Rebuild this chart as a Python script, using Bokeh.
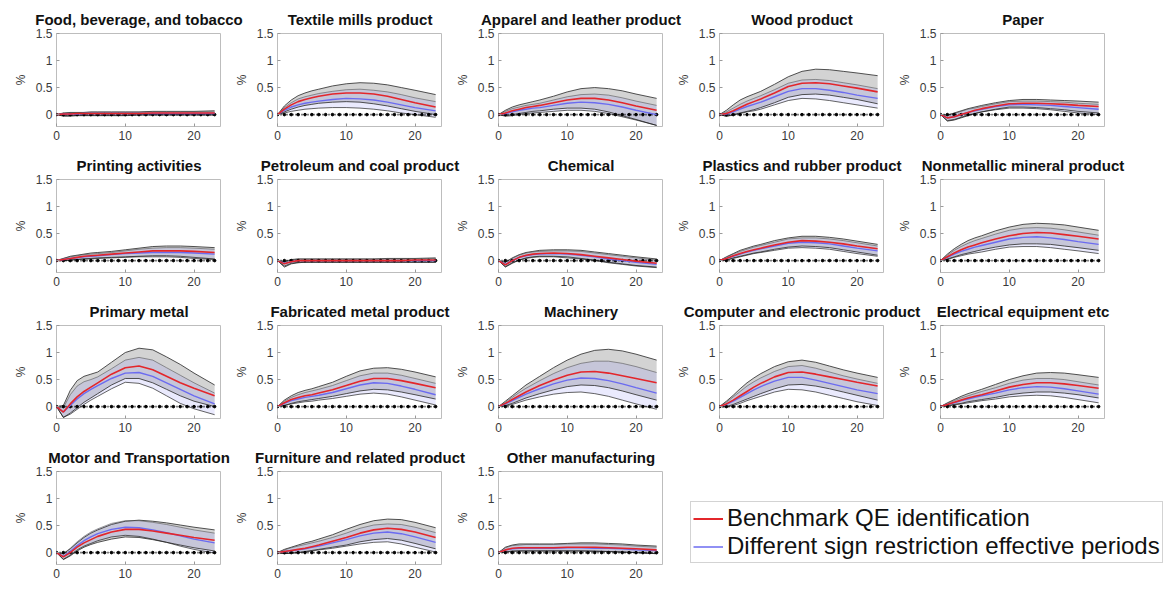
from bokeh.plotting import figure
from bokeh.layouts import row, column
from bokeh.models import FixedTicker, Legend, LegendItem
from bokeh.core.properties import value
from bokeh.embed import file_html
from bokeh.resources import INLINE

TITLES = [
    "Food, beverage, and tobacco", "Textile mills product", "Apparel and leather product",
    "Wood product", "Paper",
    "Printing activities", "Petroleum and coal product", "Chemical",
    "Plastics and rubber product", "Nonmetallic mineral product",
    "Primary metal", "Fabricated metal product", "Machinery",
    "Computer and electronic product", "Electrical equipment etc",
    "Motor and Transportation", "Furniture and related product", "Other manufacturing",
]

# horizons (months)
H = [0, 1, 2, 3, 4, 5, 6, 8, 10, 12, 14, 16, 18, 20, 23]
ZERO_X = list(range(24))
ZERO_Y = [0] * 24

Y_TICKS = [0, 0.5, 1, 1.5]
Y_LABELS = ["0", "0.5", "1", "1.5"]
X_TICKS = [0, 10, 20]

# Benchmark QE identification: median response
BENCH = [
    [0, 0.01, 0.01, 0.02, 0.02, 0.02, 0.02, 0.02, 0.02, 0.02, 0.03, 0.03, 0.03, 0.03, 0.03],
    [0, 0.10, 0.18, 0.24, 0.28, 0.31, 0.34, 0.38, 0.40, 0.40, 0.38, 0.34, 0.28, 0.22, 0.14],
    [0, 0.03, 0.07, 0.10, 0.13, 0.15, 0.17, 0.22, 0.27, 0.30, 0.30, 0.27, 0.22, 0.16, 0.08],
    [0, 0.02, 0.07, 0.13, 0.19, 0.24, 0.29, 0.40, 0.52, 0.58, 0.59, 0.57, 0.53, 0.49, 0.42],
    [0, -0.06, -0.04, 0.0, 0.04, 0.08, 0.11, 0.16, 0.20, 0.21, 0.21, 0.20, 0.19, 0.17, 0.15],
    [0, 0.02, 0.04, 0.06, 0.08, 0.09, 0.10, 0.12, 0.14, 0.16, 0.18, 0.18, 0.18, 0.17, 0.15],
    [0, -0.06, -0.02, 0.0, 0.0, 0.0, 0.0, 0.0, 0.0, 0.0, 0.0, 0.0, 0.0, 0.01, 0.01],
    [0, -0.08, 0.0, 0.06, 0.10, 0.12, 0.13, 0.14, 0.13, 0.11, 0.08, 0.05, 0.02, -0.01, -0.05],
    [0, 0.04, 0.09, 0.13, 0.17, 0.20, 0.23, 0.29, 0.34, 0.37, 0.36, 0.34, 0.31, 0.27, 0.22],
    [0, 0.07, 0.14, 0.20, 0.25, 0.29, 0.33, 0.40, 0.46, 0.50, 0.52, 0.51, 0.48, 0.45, 0.40],
    [0, -0.10, 0.05, 0.18, 0.28, 0.36, 0.44, 0.60, 0.72, 0.75, 0.68, 0.56, 0.44, 0.34, 0.20],
    [0, 0.07, 0.13, 0.17, 0.20, 0.22, 0.25, 0.31, 0.39, 0.47, 0.52, 0.52, 0.48, 0.43, 0.35],
    [0, 0.06, 0.13, 0.20, 0.27, 0.33, 0.39, 0.49, 0.58, 0.64, 0.65, 0.62, 0.57, 0.52, 0.44],
    [0, 0.05, 0.12, 0.20, 0.28, 0.36, 0.43, 0.55, 0.63, 0.64, 0.60, 0.55, 0.50, 0.45, 0.38],
    [0, 0.04, 0.08, 0.12, 0.16, 0.19, 0.22, 0.29, 0.36, 0.41, 0.44, 0.44, 0.42, 0.39, 0.34],
    [0, -0.08, 0.0, 0.10, 0.18, 0.24, 0.30, 0.38, 0.43, 0.43, 0.40, 0.36, 0.32, 0.28, 0.23],
    [0, 0.02, 0.04, 0.06, 0.08, 0.11, 0.14, 0.21, 0.28, 0.36, 0.42, 0.45, 0.43, 0.38, 0.28],
    [0, 0.05, 0.08, 0.09, 0.09, 0.09, 0.09, 0.09, 0.10, 0.10, 0.10, 0.09, 0.08, 0.07, 0.05],
]

# Benchmark band, upper edge
BAND_HI = [
    [0, 0.03, 0.04, 0.04, 0.04, 0.05, 0.05, 0.05, 0.05, 0.05, 0.06, 0.06, 0.06, 0.06, 0.07],
    [0, 0.16, 0.27, 0.35, 0.40, 0.44, 0.47, 0.53, 0.57, 0.59, 0.58, 0.55, 0.50, 0.45, 0.37],
    [0, 0.08, 0.14, 0.18, 0.21, 0.24, 0.27, 0.34, 0.42, 0.48, 0.50, 0.48, 0.44, 0.38, 0.30],
    [0, 0.08, 0.18, 0.27, 0.33, 0.38, 0.43, 0.56, 0.70, 0.80, 0.84, 0.83, 0.80, 0.77, 0.72],
    [0, -0.01, 0.03, 0.07, 0.11, 0.14, 0.17, 0.22, 0.26, 0.28, 0.28, 0.27, 0.26, 0.25, 0.23],
    [0, 0.04, 0.08, 0.10, 0.12, 0.14, 0.15, 0.17, 0.20, 0.23, 0.26, 0.27, 0.27, 0.26, 0.24],
    [0, -0.02, 0.02, 0.03, 0.03, 0.03, 0.03, 0.03, 0.03, 0.03, 0.03, 0.04, 0.04, 0.04, 0.05],
    [0, -0.03, 0.05, 0.11, 0.15, 0.17, 0.19, 0.20, 0.20, 0.19, 0.16, 0.13, 0.10, 0.07, 0.03],
    [0, 0.07, 0.13, 0.19, 0.23, 0.27, 0.30, 0.37, 0.42, 0.45, 0.45, 0.43, 0.40, 0.36, 0.30],
    [0, 0.12, 0.22, 0.30, 0.37, 0.42, 0.46, 0.55, 0.62, 0.67, 0.69, 0.68, 0.66, 0.62, 0.56],
    [0, 0.02, 0.30, 0.48, 0.56, 0.60, 0.64, 0.82, 1.00, 1.08, 1.05, 0.92, 0.78, 0.62, 0.40],
    [0, 0.12, 0.20, 0.26, 0.30, 0.33, 0.37, 0.45, 0.56, 0.66, 0.71, 0.72, 0.69, 0.64, 0.55],
    [0, 0.10, 0.20, 0.30, 0.40, 0.48, 0.56, 0.72, 0.86, 0.97, 1.04, 1.06, 1.03, 0.97, 0.86],
    [0, 0.10, 0.21, 0.33, 0.44, 0.53, 0.61, 0.74, 0.83, 0.86, 0.82, 0.75, 0.68, 0.62, 0.54],
    [0, 0.07, 0.13, 0.19, 0.24, 0.28, 0.32, 0.41, 0.50, 0.57, 0.62, 0.63, 0.62, 0.59, 0.54],
    [0, -0.02, 0.07, 0.18, 0.28, 0.36, 0.42, 0.52, 0.58, 0.60, 0.58, 0.55, 0.51, 0.47, 0.42],
    [0, 0.06, 0.10, 0.14, 0.18, 0.21, 0.25, 0.33, 0.43, 0.52, 0.59, 0.62, 0.61, 0.56, 0.46],
    [0, 0.10, 0.14, 0.16, 0.16, 0.16, 0.16, 0.16, 0.17, 0.18, 0.18, 0.17, 0.16, 0.14, 0.12],
]

# Benchmark band, lower edge
BAND_LO = [
    [0, -0.02, -0.02, -0.01, -0.01, -0.01, -0.01, -0.01, -0.01, 0, 0, 0, 0, 0, 0],
    [0, 0.05, 0.10, 0.14, 0.17, 0.19, 0.21, 0.23, 0.24, 0.23, 0.20, 0.16, 0.11, 0.06, 0.0],
    [0, -0.02, 0.0, 0.02, 0.04, 0.06, 0.07, 0.10, 0.12, 0.12, 0.10, 0.05, -0.02, -0.09, -0.20],
    [0, -0.03, 0.0, 0.03, 0.06, 0.09, 0.13, 0.22, 0.32, 0.37, 0.38, 0.36, 0.32, 0.28, 0.20],
    [0, -0.12, -0.10, -0.06, -0.02, 0.02, 0.05, 0.10, 0.14, 0.14, 0.13, 0.11, 0.09, 0.06, 0.03],
    [0, 0.0, 0.01, 0.02, 0.03, 0.04, 0.05, 0.06, 0.07, 0.08, 0.09, 0.09, 0.08, 0.06, 0.03],
    [0, -0.12, -0.06, -0.04, -0.03, -0.03, -0.03, -0.03, -0.03, -0.03, -0.03, -0.03, -0.03, -0.03, -0.03],
    [0, -0.12, -0.05, 0.01, 0.05, 0.07, 0.08, 0.08, 0.07, 0.04, 0.01, -0.03, -0.06, -0.09, -0.12],
    [0, 0.01, 0.05, 0.08, 0.11, 0.14, 0.16, 0.21, 0.25, 0.27, 0.26, 0.24, 0.20, 0.16, 0.10],
    [0, 0.03, 0.07, 0.11, 0.14, 0.17, 0.20, 0.25, 0.29, 0.31, 0.31, 0.30, 0.27, 0.24, 0.19],
    [0, -0.20, -0.12, -0.02, 0.08, 0.16, 0.24, 0.40, 0.52, 0.52, 0.44, 0.32, 0.20, 0.10, 0.00],
    [0, 0.02, 0.06, 0.09, 0.11, 0.13, 0.15, 0.19, 0.24, 0.29, 0.32, 0.31, 0.27, 0.22, 0.14],
    [0, 0.02, 0.06, 0.11, 0.16, 0.20, 0.24, 0.31, 0.37, 0.40, 0.39, 0.35, 0.29, 0.22, 0.12],
    [0, 0.0, 0.04, 0.09, 0.14, 0.19, 0.24, 0.33, 0.40, 0.41, 0.38, 0.33, 0.27, 0.21, 0.12],
    [0, 0.02, 0.04, 0.06, 0.09, 0.11, 0.13, 0.17, 0.22, 0.25, 0.27, 0.27, 0.25, 0.22, 0.16],
    [0, -0.13, -0.06, 0.03, 0.10, 0.15, 0.19, 0.25, 0.29, 0.28, 0.24, 0.19, 0.14, 0.09, 0.03],
    [0, -0.02, -0.01, 0.0, 0.02, 0.04, 0.06, 0.10, 0.14, 0.20, 0.24, 0.26, 0.23, 0.17, 0.07],
    [0, 0.01, 0.03, 0.03, 0.03, 0.03, 0.03, 0.03, 0.03, 0.03, 0.03, 0.02, 0.01, 0.0, -0.02],
]

# Different sign restriction effective periods: median response
ALT = [
    [0, 0.01, 0.01, 0.01, 0.02, 0.02, 0.02, 0.02, 0.02, 0.02, 0.02, 0.02, 0.02, 0.02, 0.02],
    [0, 0.08, 0.14, 0.18, 0.21, 0.23, 0.25, 0.28, 0.30, 0.29, 0.27, 0.23, 0.18, 0.13, 0.07],
    [0, 0.02, 0.05, 0.08, 0.10, 0.12, 0.13, 0.17, 0.21, 0.23, 0.22, 0.19, 0.14, 0.08, 0.0],
    [0, 0.01, 0.05, 0.10, 0.15, 0.19, 0.23, 0.33, 0.43, 0.48, 0.48, 0.45, 0.41, 0.36, 0.30],
    [0, -0.06, -0.04, 0.0, 0.04, 0.07, 0.10, 0.15, 0.18, 0.19, 0.18, 0.17, 0.15, 0.13, 0.10],
    [0, 0.02, 0.04, 0.05, 0.07, 0.08, 0.09, 0.11, 0.13, 0.14, 0.15, 0.15, 0.15, 0.14, 0.12],
    [0, -0.05, -0.02, 0.0, 0.0, 0.0, 0.0, 0.0, 0.0, 0.0, 0.0, 0.0, 0.0, 0.0, 0.0],
    [0, -0.07, 0.0, 0.06, 0.09, 0.11, 0.12, 0.13, 0.12, 0.10, 0.07, 0.03, 0.0, -0.03, -0.07],
    [0, 0.04, 0.08, 0.12, 0.16, 0.19, 0.22, 0.27, 0.32, 0.34, 0.33, 0.31, 0.27, 0.23, 0.18],
    [0, 0.06, 0.12, 0.17, 0.21, 0.25, 0.28, 0.34, 0.40, 0.43, 0.44, 0.42, 0.39, 0.35, 0.30],
    [0, -0.10, 0.02, 0.14, 0.24, 0.32, 0.39, 0.52, 0.62, 0.63, 0.56, 0.44, 0.32, 0.20, 0.05],
    [0, 0.06, 0.11, 0.14, 0.17, 0.19, 0.21, 0.26, 0.33, 0.40, 0.44, 0.43, 0.38, 0.32, 0.22],
    [0, 0.05, 0.11, 0.17, 0.23, 0.28, 0.33, 0.42, 0.49, 0.53, 0.52, 0.48, 0.42, 0.35, 0.25],
    [0, 0.04, 0.10, 0.17, 0.24, 0.31, 0.37, 0.47, 0.54, 0.54, 0.49, 0.43, 0.37, 0.31, 0.24],
    [0, 0.04, 0.07, 0.11, 0.14, 0.17, 0.20, 0.25, 0.31, 0.35, 0.37, 0.36, 0.33, 0.29, 0.23],
    [0, -0.07, 0.02, 0.13, 0.22, 0.29, 0.35, 0.43, 0.47, 0.46, 0.42, 0.37, 0.31, 0.25, 0.18],
    [0, 0.02, 0.04, 0.05, 0.07, 0.10, 0.12, 0.18, 0.24, 0.31, 0.36, 0.38, 0.35, 0.29, 0.19],
    [0, 0.05, 0.07, 0.08, 0.08, 0.08, 0.08, 0.08, 0.09, 0.09, 0.08, 0.08, 0.07, 0.05, 0.04],
]

# Alternative band, upper edge
ALT_HI = [
    [0, 0.02, 0.03, 0.03, 0.04, 0.04, 0.04, 0.04, 0.04, 0.04, 0.05, 0.05, 0.05, 0.05, 0.05],
    [0, 0.13, 0.22, 0.29, 0.33, 0.36, 0.39, 0.43, 0.46, 0.47, 0.45, 0.42, 0.37, 0.31, 0.24],
    [0, 0.06, 0.11, 0.14, 0.17, 0.19, 0.21, 0.27, 0.33, 0.37, 0.38, 0.36, 0.31, 0.25, 0.17],
    [0, 0.05, 0.12, 0.19, 0.25, 0.30, 0.35, 0.46, 0.58, 0.64, 0.65, 0.63, 0.59, 0.55, 0.48],
    [0, -0.01, 0.02, 0.06, 0.10, 0.12, 0.15, 0.20, 0.24, 0.25, 0.25, 0.24, 0.23, 0.21, 0.19],
    [0, 0.04, 0.07, 0.09, 0.11, 0.12, 0.13, 0.15, 0.18, 0.21, 0.23, 0.24, 0.24, 0.23, 0.21],
    [0, -0.02, 0.01, 0.03, 0.03, 0.03, 0.03, 0.03, 0.03, 0.03, 0.03, 0.03, 0.03, 0.03, 0.04],
    [0, -0.03, 0.04, 0.10, 0.14, 0.16, 0.17, 0.18, 0.18, 0.17, 0.14, 0.11, 0.08, 0.05, 0.01],
    [0, 0.06, 0.12, 0.17, 0.21, 0.25, 0.28, 0.34, 0.40, 0.42, 0.42, 0.40, 0.37, 0.33, 0.27],
    [0, 0.10, 0.19, 0.26, 0.32, 0.37, 0.41, 0.49, 0.56, 0.60, 0.61, 0.60, 0.57, 0.53, 0.47],
    [0, -0.02, 0.22, 0.38, 0.46, 0.50, 0.55, 0.70, 0.86, 0.91, 0.86, 0.72, 0.58, 0.44, 0.25],
    [0, 0.10, 0.17, 0.22, 0.26, 0.29, 0.32, 0.39, 0.48, 0.57, 0.62, 0.62, 0.58, 0.52, 0.43],
    [0, 0.08, 0.17, 0.26, 0.34, 0.41, 0.48, 0.61, 0.72, 0.80, 0.84, 0.84, 0.80, 0.74, 0.63],
    [0, 0.08, 0.18, 0.28, 0.38, 0.46, 0.53, 0.65, 0.74, 0.76, 0.71, 0.64, 0.57, 0.51, 0.43],
    [0, 0.06, 0.11, 0.16, 0.20, 0.24, 0.28, 0.35, 0.43, 0.49, 0.52, 0.52, 0.50, 0.46, 0.40],
    [0, -0.02, 0.08, 0.20, 0.30, 0.38, 0.44, 0.54, 0.59, 0.59, 0.56, 0.52, 0.47, 0.42, 0.36],
    [0, 0.05, 0.09, 0.12, 0.15, 0.18, 0.21, 0.28, 0.36, 0.45, 0.51, 0.53, 0.52, 0.47, 0.37],
    [0, 0.09, 0.13, 0.14, 0.15, 0.15, 0.15, 0.15, 0.16, 0.16, 0.16, 0.15, 0.14, 0.12, 0.10],
]

# Alternative band, lower edge
ALT_LO = [
    [0, -0.03, -0.03, -0.02, -0.02, -0.02, -0.02, -0.02, -0.02, -0.01, -0.01, -0.01, -0.01, -0.01, -0.01],
    [0, 0.03, 0.06, 0.08, 0.10, 0.11, 0.12, 0.13, 0.13, 0.12, 0.10, 0.07, 0.03, 0.0, -0.05],
    [0, -0.03, -0.02, 0.0, 0.02, 0.03, 0.04, 0.06, 0.08, 0.08, 0.06, 0.02, -0.04, -0.10, -0.20],
    [0, -0.03, -0.01, 0.02, 0.05, 0.07, 0.10, 0.18, 0.26, 0.30, 0.29, 0.26, 0.22, 0.18, 0.12],
    [0, -0.11, -0.09, -0.05, -0.01, 0.02, 0.05, 0.09, 0.12, 0.12, 0.11, 0.09, 0.06, 0.03, 0.0],
    [0, 0.0, 0.01, 0.02, 0.03, 0.03, 0.04, 0.05, 0.06, 0.07, 0.07, 0.07, 0.06, 0.04, 0.02],
    [0, -0.10, -0.05, -0.03, -0.03, -0.03, -0.03, -0.03, -0.03, -0.03, -0.03, -0.03, -0.03, -0.03, -0.03],
    [0, -0.11, -0.04, 0.01, 0.04, 0.06, 0.07, 0.07, 0.05, 0.03, 0.0, -0.04, -0.07, -0.10, -0.13],
    [0, 0.01, 0.04, 0.07, 0.10, 0.13, 0.15, 0.19, 0.23, 0.24, 0.23, 0.21, 0.17, 0.13, 0.08],
    [0, 0.02, 0.06, 0.09, 0.12, 0.14, 0.16, 0.21, 0.25, 0.26, 0.26, 0.24, 0.21, 0.18, 0.13],
    [0, -0.20, -0.14, -0.05, 0.04, 0.12, 0.19, 0.33, 0.45, 0.43, 0.34, 0.20, 0.06, -0.04, -0.15],
    [0, 0.02, 0.05, 0.07, 0.09, 0.10, 0.12, 0.15, 0.19, 0.23, 0.25, 0.23, 0.18, 0.12, 0.03],
    [0, 0.01, 0.04, 0.08, 0.12, 0.15, 0.18, 0.23, 0.26, 0.27, 0.24, 0.19, 0.12, 0.05, -0.05],
    [0, -0.01, 0.02, 0.06, 0.11, 0.15, 0.19, 0.27, 0.32, 0.31, 0.27, 0.21, 0.15, 0.09, 0.02],
    [0, 0.01, 0.03, 0.05, 0.07, 0.09, 0.11, 0.14, 0.18, 0.20, 0.21, 0.20, 0.17, 0.13, 0.07],
    [0, -0.12, -0.05, 0.05, 0.12, 0.17, 0.22, 0.29, 0.32, 0.30, 0.25, 0.19, 0.12, 0.06, -0.01],
    [0, -0.02, -0.01, 0.0, 0.01, 0.03, 0.05, 0.08, 0.12, 0.16, 0.19, 0.20, 0.16, 0.10, 0.01],
    [0, 0.01, 0.02, 0.03, 0.03, 0.03, 0.03, 0.03, 0.03, 0.03, 0.02, 0.02, 0.01, 0.0, -0.02],
]

LEGEND_LABELS = ["Benchmark QE identification", "Different sign restriction effective periods"]

RED = "#e3262b"
BLUE = "#6b6bf0"
FONT = "Liberation Sans"

NCOL = 5
PW = 221          # panel figure width
STRIP_H = 28      # title strip height
PH = 118          # panel figure height (below title strip)
LEFT = 56         # panel left border
TOP = 5
BOTTOM = 20
FRAME_W = PW - LEFT
PAGE_W = 1169


def make_strip(idx_list):
    """Title strip above a row of panels; titles centred over each panel frame."""
    s = figure(width=PAGE_W, height=STRIP_H, x_range=(0, PAGE_W), y_range=(0, STRIP_H),
               output_backend="svg", toolbar_location=None, title=None,
               x_axis_location=None, y_axis_location=None, min_border=0)
    s.grid.visible = False
    s.outline_line_color = None
    xs = [c * PW + LEFT + FRAME_W / 2 for c in range(len(idx_list))]
    s.text(x=xs, y=[0.5] * len(idx_list), text=[TITLES[i] for i in idx_list],
           text_align="center", text_baseline="bottom",
           text_font=value(FONT), text_font_size="15px", text_font_style="bold",
           text_color="#111111")
    return s


def make_panel(i):
    p = figure(width=PW, height=PH, x_range=(0, 24), y_range=(-0.22, 1.5),
               output_backend="svg", toolbar_location=None, title=None,
               min_border_left=LEFT, min_border_right=0,
               min_border_top=TOP, min_border_bottom=BOTTOM)
    p.grid.visible = False
    p.outline_line_color = "#bdbdbd"
    p.outline_line_width = 1

    for ax in (p.xaxis[0], p.yaxis[0]):
        ax.axis_line_color = None
        ax.major_tick_in = 3
        ax.major_tick_out = 0
        ax.minor_tick_line_color = None
        ax.major_tick_line_color = "#9a9a9a"
        ax.major_label_text_font = FONT
        ax.major_label_text_font_size = "12px"
        ax.major_label_text_color = "#3a3a3a"
        ax.major_label_standoff = 4
    p.xaxis.ticker = FixedTicker(ticks=X_TICKS)
    p.yaxis.ticker = FixedTicker(ticks=Y_TICKS)
    p.yaxis.major_label_overrides = {t: l for t, l in zip(Y_TICKS, Y_LABELS)}
    p.yaxis.axis_label = "%"
    p.yaxis.axis_label_text_font = FONT
    p.yaxis.axis_label_text_font_style = "normal"
    p.yaxis.axis_label_text_font_size = "12px"
    p.yaxis.axis_label_text_color = "#3a3a3a"
    p.yaxis.axis_label_standoff = 5

    # benchmark band
    p.varea(x=H, y1=BAND_LO[i], y2=BAND_HI[i], fill_color="#c4c4c4", fill_alpha=0.75)
    # alternative band
    p.varea(x=H, y1=ALT_LO[i], y2=ALT_HI[i], fill_color="#8c8cf5", fill_alpha=0.18)
    p.line(H, BAND_HI[i], line_color="#3c3c3c", line_width=0.9)
    p.line(H, BAND_LO[i], line_color="#3c3c3c", line_width=0.9)
    p.line(H, ALT_HI[i], line_color="#555555", line_width=0.6)
    p.line(H, ALT_LO[i], line_color="#222222", line_width=0.7)
    # zero line
    p.line(ZERO_X, ZERO_Y, line_color="black", line_width=1.6, line_dash="1 2")
    p.scatter(ZERO_X, ZERO_Y, size=2.6, color="black")
    # medians
    p.line(H, ALT[i], line_color=BLUE, line_width=1.4)
    p.line(H, BENCH[i], line_color=RED, line_width=1.6)
    return p


panels = [make_panel(i) for i in range(len(TITLES))]

# legend area: same frame top/bottom as the panels of its row (frames are aligned);
# its proxy lines lie outside the visible range, only the legend shows
lf = figure(width=PAGE_W - 3 * PW, height=PH, x_range=(100, 101), y_range=(100, 101),
            output_backend="svg", toolbar_location=None, title=None,
            x_axis_location=None, y_axis_location=None,
            min_border_left=0, min_border_top=TOP, min_border_right=0,
            min_border_bottom=BOTTOM)
lf.grid.visible = False
lf.outline_line_color = None
r1 = lf.line(H, BENCH[0], line_color=RED, line_width=2)
r2 = lf.line(H, ALT[0], line_color=BLUE, line_width=1.5)
leg = Legend(items=[LegendItem(label=LEGEND_LABELS[0], renderers=[r1]),
                    LegendItem(label=LEGEND_LABELS[1], renderers=[r2])],
             location=(27, 1))
leg.label_text_font = FONT
leg.label_text_font_size = "24px"
leg.label_text_color = "#111111"
leg.glyph_width = 30
leg.glyph_height = 27
leg.label_height = 27
leg.label_standoff = 4
leg.padding = 2
leg.spacing = 0
leg.margin = 0
leg.border_line_color = "#a8a8a8"
leg.border_line_width = 1
leg.background_fill_alpha = 1
lf.add_layout(leg)

rows = []
for r in range(3):
    idx = list(range(r * NCOL, (r + 1) * NCOL))
    rows.append(make_strip(idx))
    rows.append(row(*[panels[i] for i in idx]))
rows.append(make_strip([15, 16, 17]))
rows.append(row(panels[15], panels[16], panels[17], lf))

layout = column(*rows)

open("out.html", "w").write(file_html(layout, INLINE))
